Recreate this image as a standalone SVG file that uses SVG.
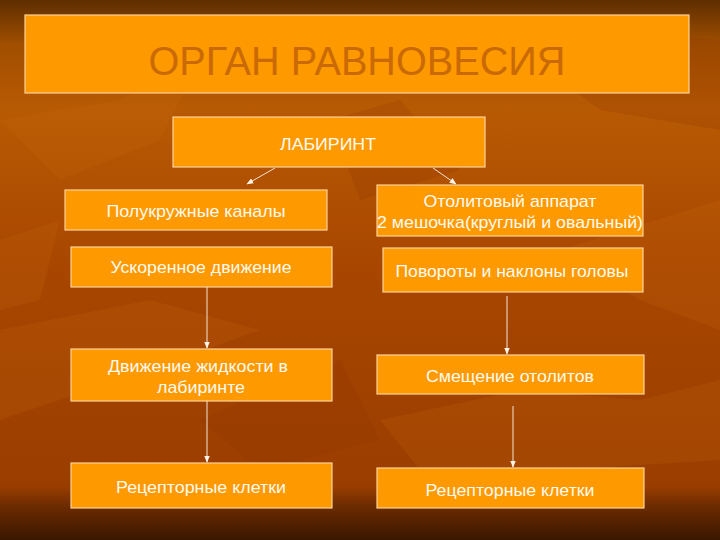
<svg xmlns="http://www.w3.org/2000/svg" width="720" height="540" viewBox="0 0 720 540">
<defs>
<linearGradient id="bg" x1="0" y1="0" x2="0" y2="1">
<stop offset="0" stop-color="#5e2e00"/>
<stop offset="0.08" stop-color="#a04e00"/>
<stop offset="0.2" stop-color="#b85a04"/>
<stop offset="0.5" stop-color="#a84600"/>
<stop offset="0.9" stop-color="#9a3e00"/>
<stop offset="0.94" stop-color="#6a2a00"/>
<stop offset="1" stop-color="#3a1600"/>
</linearGradient>
<marker id="ah" viewBox="0 0 10 10" refX="9" refY="5" markerWidth="7" markerHeight="7" orient="auto" markerUnits="userSpaceOnUse">
<path d="M0,1 L10,5 L0,9 z" fill="#fff4e6"/>
</marker>
<style>
.box{fill:#ff9900;stroke:#ffd39a;stroke-width:1.2}
.t{font-family:"Liberation Sans",Arial,sans-serif;font-size:17px;fill:#fffaf0;text-anchor:middle}
.title{font-family:"Liberation Sans",Arial,sans-serif;font-size:41px;fill:#c96a06;text-anchor:middle}
.c{stroke:#f4e4d4;stroke-width:1;fill:none;marker-end:url(#ah)}
.leaf{fill:#c86a10;opacity:0.2}
.leafd{fill:#8a3200;opacity:0.2}
</style>
</defs>
<rect width="720" height="540" fill="url(#bg)"/>
<g id="background-shapes">
<polygon class="leaf" points="0,120 120,100 200,60 160,140 60,180"/>
<polygon class="leafd" points="480,20 720,40 720,130 600,110"/>
<polygon class="leaf" points="560,250 720,200 720,330 640,300"/>
<polygon class="leaf" points="0,330 150,300 260,330 120,380 0,420"/>
<polygon class="leafd" points="200,420 340,360 380,440 260,470"/>
<polygon class="leaf" points="380,420 520,390 640,400 720,380 720,460 560,470 420,470"/>
<polygon class="leafd" points="330,120 400,100 460,170 360,200"/>
<polygon class="leaf" points="0,240 60,220 40,300 0,310"/>
</g>
<g id="title">
<rect class="box" x="25" y="15" width="664" height="78"/>
<text class="title" x="357" y="75" textLength="417" lengthAdjust="spacingAndGlyphs">ОРГАН РАВНОВЕСИЯ</text>
</g>
<g id="labyrinth">
<rect class="box" x="173" y="117" width="312" height="50"/>
<text class="t" x="328" y="150" textLength="96" lengthAdjust="spacingAndGlyphs">ЛАБИРИНТ</text>
</g>
<g id="semicircular">
<rect class="box" x="65" y="190" width="262" height="40"/>
<text class="t" x="196" y="217" textLength="179" lengthAdjust="spacingAndGlyphs">Полукружные каналы</text>
</g>
<g id="otolith">
<rect class="box" x="377" y="185" width="266" height="51"/>
<text class="t" x="510" y="207" textLength="173" lengthAdjust="spacingAndGlyphs">Отолитовый аппарат</text>
<text class="t" x="510" y="228" textLength="266" lengthAdjust="spacingAndGlyphs">2 мешочка(круглый и овальный)</text>
</g>
<g id="acceleration">
<rect class="box" x="71" y="247" width="261" height="40"/>
<text class="t" x="201" y="273" textLength="181" lengthAdjust="spacingAndGlyphs">Ускоренное движение</text>
</g>
<g id="turns">
<rect class="box" x="383" y="248" width="260" height="44"/>
<text class="t" x="512" y="277" textLength="233" lengthAdjust="spacingAndGlyphs">Повороты и наклоны головы</text>
</g>
<g id="fluid">
<rect class="box" x="71" y="349" width="261" height="52"/>
<text class="t" x="198" y="372" textLength="180" lengthAdjust="spacingAndGlyphs">Движение жидкости в</text>
<text class="t" x="201" y="393" textLength="88" lengthAdjust="spacingAndGlyphs">лабиринте</text>
</g>
<g id="displacement">
<rect class="box" x="377" y="355" width="267" height="39"/>
<text class="t" x="510" y="382" textLength="168" lengthAdjust="spacingAndGlyphs">Смещение отолитов</text>
</g>
<g id="receptors-left">
<rect class="box" x="71" y="463" width="261" height="45"/>
<text class="t" x="201" y="493" textLength="170" lengthAdjust="spacingAndGlyphs">Рецепторные клетки</text>
</g>
<g id="receptors-right">
<rect class="box" x="377" y="468" width="267" height="40"/>
<text class="t" x="510" y="496" textLength="169" lengthAdjust="spacingAndGlyphs">Рецепторные клетки</text>
</g>
<g id="connectors">
<line class="c" x1="275" y1="168" x2="247" y2="184"/>
<line class="c" x1="433" y1="168" x2="456" y2="184"/>
<line class="c" x1="207" y1="287" x2="207" y2="348"/>
<line class="c" x1="207" y1="401" x2="207" y2="462"/>
<line class="c" x1="507" y1="296" x2="507" y2="354"/>
<line class="c" x1="513" y1="406" x2="513" y2="467"/>
</g>
</svg>
